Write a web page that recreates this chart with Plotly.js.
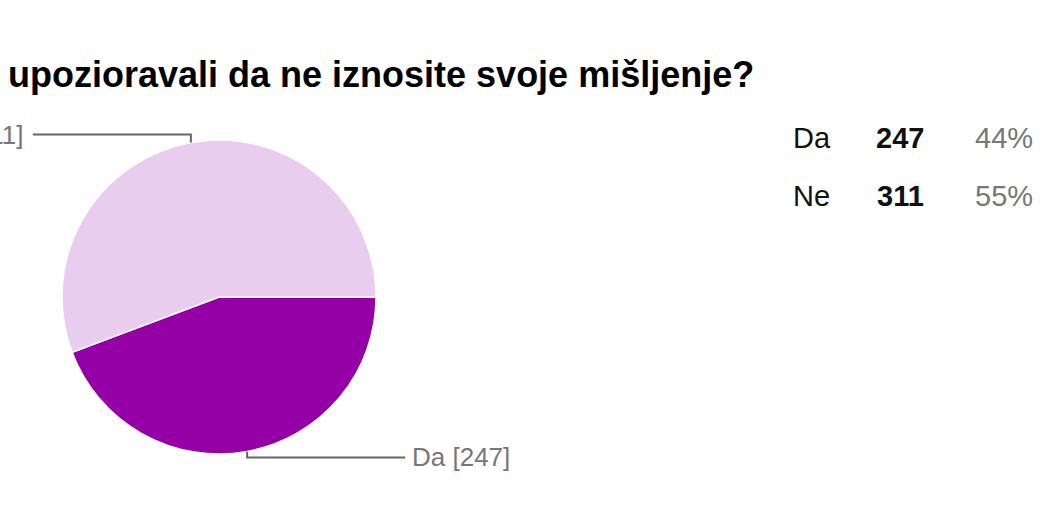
<!DOCTYPE html>
<html><head><meta charset="utf-8">
<script src="https://cdn.plot.ly/plotly-3.0.1.min.js"></script>
<style>html,body{margin:0;padding:0;background:#fff;overflow:hidden}#c{width:1050px;height:525px}</style>
</head><body><div id="c"></div>
<script>
const categories = ["Da", "Ne"];
const counts = [247, 311];
const percents = ["44%", "55%"];
const colors = ["#9400a6", "#e8cdef"];
const titleText = "upozioravali da ne iznosite svoje mišljenje?";

const W = 1050, H = 525;
const cx = 219, cy = 297, R = 157;
const px = x => x / W, py = y => 1 - y / H;

const total = counts.reduce((a, b) => a + b, 0);
const shapes = [], annotations = [];

// title
annotations.push({xref:'paper', yref:'paper', x:px(6), y:py(75), xanchor:'left', yanchor:'middle',
  text:titleText, showarrow:false, font:{family:'Liberation Sans, Arial', size:36, color:'#000', weight:'bold'}});

// leader lines & labels computed from the slice mid-angles (clockwise from 3 o'clock)
let start = 0;
counts.forEach((v, i) => {
  const sweep = v / total * 360;
  const mid = (start + sweep / 2) * Math.PI / 180;
  start += sweep;
  const ex = cx + R * Math.cos(mid), ey = cy + R * Math.sin(mid);
  const down = Math.sin(mid) > 0;
  const ly = down ? ey + 6 : ey - 8;
  const dir = Math.cos(mid) >= 0 ? 1 : -1;
  const lx = ex + dir * 158;
  shapes.push({type:'path', xref:'paper', yref:'paper',
    path:`M ${px(ex)} ${py(ey)} L ${px(ex)} ${py(ly)} L ${px(lx)} ${py(ly)}`,
    line:{color:'#666', width:2}});
  annotations.push({xref:'paper', yref:'paper', x:px(lx + dir * (dir > 0 ? 5 : 8)), y:py(ly), xanchor: dir > 0 ? 'left' : 'right', yanchor:'middle',
    text:`${categories[i]} [${counts[i]}]`, showarrow:false, font:{family:'Liberation Sans, Arial', size:26, color:'#777'}});
});

// right-side table
categories.forEach((c, i) => {
  const y = 138 + i * 58;
  annotations.push({xref:'paper', yref:'paper', x:px(791), y:py(y), xanchor:'left', yanchor:'middle', showarrow:false,
    text:c, font:{family:'Liberation Sans, Arial', size:29, color:'#111'}});
  annotations.push({xref:'paper', yref:'paper', x:px(926), y:py(y), xanchor:'right', yanchor:'middle', showarrow:false,
    text:String(counts[i]), font:{family:'Liberation Sans, Arial', size:29, color:'#111', weight:'bold'}});
  annotations.push({xref:'paper', yref:'paper', x:px(1035), y:py(y), xanchor:'right', yanchor:'middle', showarrow:false,
    text:percents[i], font:{family:'Liberation Sans, Arial', size:29, color:'#777'}});
});

const trace = {
  type:'pie', labels:categories, values:counts, sort:false, direction:'clockwise', rotation:90,
  marker:{colors:colors, line:{color:'#fff', width:1.5}}, textinfo:'none', hoverinfo:'label+value',
  domain:{x:[px(cx - R), px(cx + R)], y:[py(cy + R), py(cy - R)]}, showlegend:false
};

Plotly.newPlot('c', [trace], {
  width:W, height:H, margin:{l:0, r:0, t:0, b:0}, paper_bgcolor:'#fff', showlegend:false,
  shapes:shapes, annotations:annotations
}, {displayModeBar:false, staticPlot:true});
</script></body></html>
